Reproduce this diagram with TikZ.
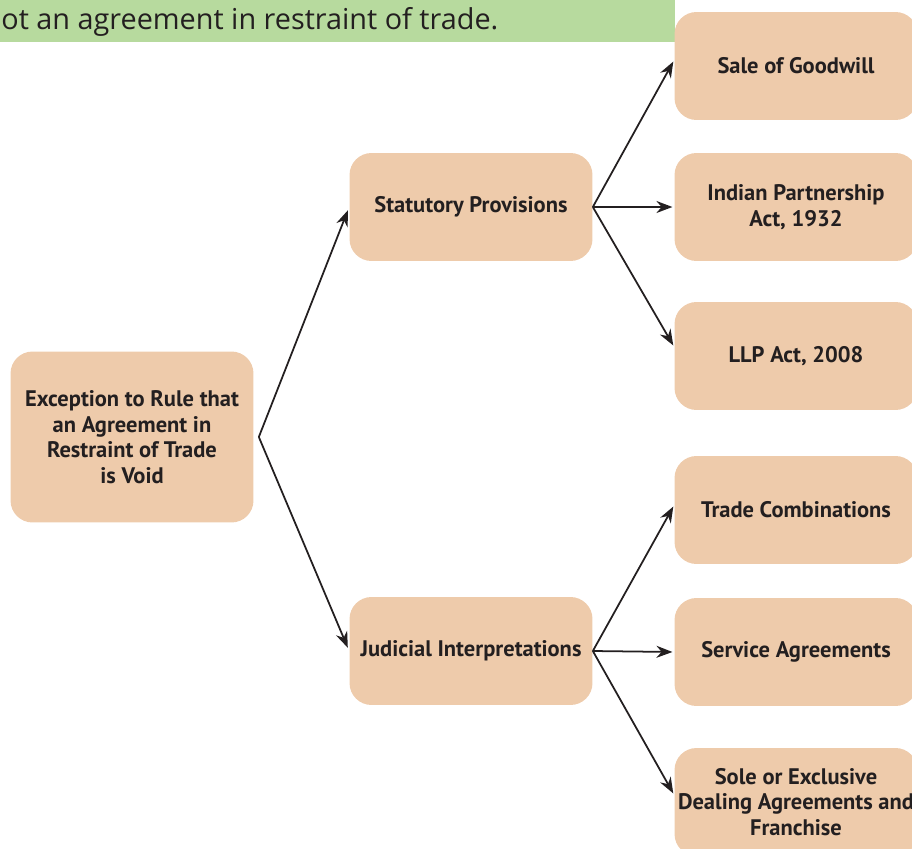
\documentclass[tikz,border=0pt]{standalone}
\usepackage{fontspec}
\setmainfont{PT Sans}
\newfontfamily\bannerfont{Open Sans}
\usepackage{xcolor}
\usetikzlibrary{arrows.meta}

\definecolor{boxfill}{HTML}{EECBAB}
\definecolor{bannerfill}{HTML}{B7DA9E}
\definecolor{inkdark}{HTML}{231F20}

\tikzset{
  item/.style={rectangle, rounded corners=0.44cm, fill=boxfill, text=inkdark,
    minimum width=4.86cm, minimum height=2.16cm, align=center, inner xsep=1pt,
    font=\bfseries\fontsize{12.8}{14.6}\selectfont},
  link/.style={-{Stealth[length=0.32cm,width=0.24cm]}, line width=1pt, inkdark}
}

\begin{document}
\begin{tikzpicture}[x=0.02cm, y=-0.02cm]
      \useasboundingbox (0,0) rectangle (912,848);
      \clip (0,0) rectangle (912,848);
      % Banner
      \fill[bannerfill] (0,0) rectangle (675,42);
      \node[anchor=base west, inner sep=0pt, text=inkdark,
        font=\bannerfont\fontsize{16.4}{19}\selectfont] (banner) at (1,30)
        {ot an agreement in restraint of trade.};
      % Boxes
      \node[item, minimum height=3.42cm] (rule) at (132,437)
        {Exception to Rule that\\an Agreement in\\Restraint of Trade\\is Void};
      \node[item] (stat) at (471,207) {Statutory Provisions};
      \node[item] (jud) at (471,651) {Judicial Interpretations};
      \node[item] (sale) at (796,66) {Sale of Goodwill};
      \node[item] (ipa) at (796,207) {Indian Partnership\\Act, 1932};
      \node[item] (llp) at (796,356) {LLP Act, 2008};
      \node[item] (trade) at (796,510) {Trade Combinations};
      \node[item] (serv) at (796,652) {Service Agreements};
      \node[item] (sole) at (796,802) {Sole or Exclusive\\Dealing Agreements and\\Franchise};
      % Arrows
      \coordinate (split) at ([xshift=0.1cm]rule.east);
      \draw[link, shorten >=2pt] (split) -- (stat.west);
      \draw[link, shorten >=2pt] (split) -- (jud.west);
      \draw[link, shorten >=1pt] (stat.east) -- ([yshift=0.12cm]sale.west);
      \draw[link, shorten >=1pt] (stat.east) -- (ipa.west);
      \draw[link, shorten >=1pt] (stat.east) -- ([yshift=0.18cm]llp.west);
      \draw[link, shorten >=1pt] (jud.east) -- ([yshift=0.1cm]trade.west);
      \draw[link, shorten >=1pt] (jud.east) -- (serv.west);
      \draw[link, shorten >=1pt] (jud.east) -- ([yshift=0.14cm]sole.west);
    \end{tikzpicture}
\end{document}
